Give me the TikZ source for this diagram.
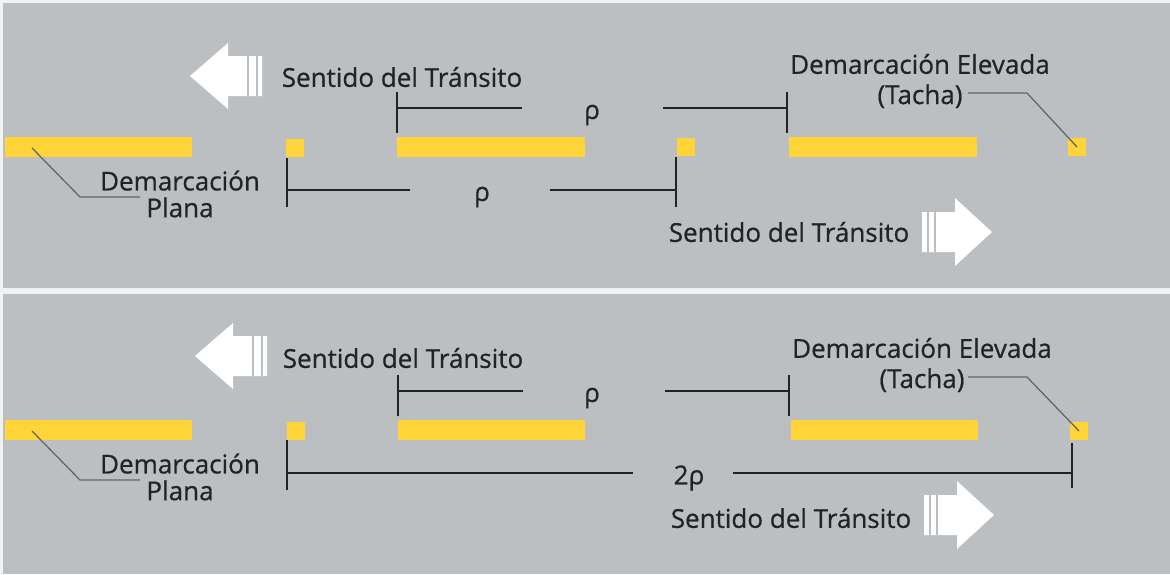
\documentclass[tikz,border=0pt]{standalone}
\usepackage{fontspec}
\setmainfont{Open Sans}
\newfontfamily\lblfont{Open Sans}[FakeBold=0.6]
\usetikzlibrary{positioning}
\definecolor{road}{RGB}{188,191,194}
\definecolor{paint}{RGB}{255,212,56}
\definecolor{ink}{RGB}{34,34,40}
\definecolor{leadgray}{RGB}{100,100,106}
\tikzset{lbl/.style={font=\lblfont\fontsize{18.5}{22}\selectfont,text=ink,inner sep=0pt,align=center},
  franja/.style={fill=paint,draw=none,minimum width=4.675cm,minimum height=0.5cm,inner sep=0pt},
  tachabox/.style={fill=paint,draw=none,minimum size=0.45cm,inner sep=0pt},
  dimline/.style={ink,line width=1.3pt},
  lead/.style={leadgray,line width=0.9pt},
  flecha/.style={fill=white,draw=none},
  gap/.style={road,line width=0.9pt}}

\begin{document}
\begin{tikzpicture}[x=0.025cm,y=-0.025cm]
\useasboundingbox (0,0) rectangle (1170,574);
\fill[white!80!road] (0,0) rectangle (1170,574);
\fill[road] (3,3) rectangle (1170,288);
\fill[road] (3,294) rectangle (1170,574);

% ---- upper panel: rho spacing
\node[franja] (fA1) at (98.5,147) {};
\node[tachabox] (sA1) at (295,148) {};
\node[franja] (fA2) at (491,147) {};
\node[tachabox] (sA2) at (686,147) {};
\node[franja] (fA3) at (883,147) {};
\node[tachabox] (tachaA) at (1077,147) {};

\fill[flecha] (190,76) -- ++(38,-33) -- ++(0,13) -- ++(34,0) -- ++(0,40) -- ++(-34,0) -- ++(0,13) -- cycle;
\draw[gap] (248,56) -- ++(0,40); \draw[gap] (257,56) -- ++(0,40);
\fill[flecha] (992,232) -- ++(-37,-34) -- ++(0,14) -- ++(-33,0) -- ++(0,40) -- ++(33,0) -- ++(0,14) -- cycle;
\draw[gap] (928,212) -- ++(0,40); \draw[gap] (935,212) -- ++(0,40);

\node[lbl] (senA) at (402,77) {Sentido del Tránsito};
\node[lbl] (senB) at (789,232) {Sentido del Tránsito};
\node[lbl,font=\lblfont\fontsize{18.5}{21.5}\selectfont] (elevA) at (920,81) {Demarcación Elevada\\(Tacha)};
\node[lbl,font=\lblfont\fontsize{18.5}{19}\selectfont] (planaA) at (180,194) {Demarcación\\Plana};
\node[lbl] (rhoA) at (592,115) {ρ};
\node[lbl] (rhoB) at (482,197) {ρ};

\coordinate (dA1) at (397,108); \coordinate (dA2) at (787,108);
\draw[dimline] (dA1) ++(0,-16) -- ++(0,41);
\draw[dimline] (dA2) ++(0,-16) -- ++(0,41);
\draw[dimline] (dA1) -- ++(125,0);
\draw[dimline] (dA2) -- ++(-124,0);
\coordinate (dB1) at (287,190); \coordinate (dB2) at (676,190);
\draw[dimline] (dB1) ++(0,-32) -- ++(0,49);
\draw[dimline] (dB2) ++(0,-33) -- ++(0,50);
\draw[dimline] (dB1) -- ++(123,0);
\draw[dimline] (dB2) -- ++(-126,0);

\coordinate (pA) at (32,148);
\draw[lead] (pA) -- ++(48,49) -- ++(60,0);
\coordinate (tA) at (968,93);
\draw[lead] (tA) -- ++(59,0) -- (tachaA.center);

% ---- lower panel: 2 rho spacing
\node[franja] (fB1) at (98.5,430) {};
\node[tachabox] (sB1) at (296,431) {};
\node[franja] (fB2) at (491.5,430) {};
\node[franja] (fB3) at (884.5,430) {};
\node[tachabox] (tachaB) at (1079,431) {};

\fill[flecha] (195,356) -- ++(38,-33) -- ++(0,13) -- ++(34,0) -- ++(0,40) -- ++(-34,0) -- ++(0,13) -- cycle;
\draw[gap] (253,336) -- ++(0,40); \draw[gap] (262,336) -- ++(0,40);
\fill[flecha] (994,515) -- ++(-37,-34) -- ++(0,14) -- ++(-33,0) -- ++(0,40) -- ++(33,0) -- ++(0,14) -- cycle;
\draw[gap] (930,495) -- ++(0,40); \draw[gap] (937,495) -- ++(0,40);

\node[lbl] (senC) at (403,358) {Sentido del Tránsito};
\node[lbl] (senD) at (791,518) {Sentido del Tránsito};
\node[lbl,font=\lblfont\fontsize{18.5}{21.5}\selectfont] (elevB) at (922,365) {Demarcación Elevada\\(Tacha)};
\node[lbl,font=\lblfont\fontsize{18.5}{19}\selectfont] (planaB) at (180,477) {Demarcación\\Plana};
\node[lbl] (rhoC) at (592,398) {ρ};
\node[lbl] (rhoD) at (689,478) {2ρ};

\coordinate (dC1) at (398,391); \coordinate (dC2) at (789,391);
\draw[dimline] (dC1) ++(0,-16) -- ++(0,41);
\draw[dimline] (dC2) ++(0,-16) -- ++(0,41);
\draw[dimline] (dC1) -- ++(125,0);
\draw[dimline] (dC2) -- ++(-124,0);
\coordinate (dD1) at (287,473); \coordinate (dD2) at (1072,473);
\draw[dimline] (dD1) ++(0,-33) -- ++(0,50);
\draw[dimline] (dD2) ++(0,-30) -- ++(0,45);
\draw[dimline] (dD1) -- ++(346,0);
\draw[dimline] (dD2) -- ++(-339,0);

\coordinate (pB) at (32,431);
\draw[lead] (pB) -- ++(48,49) -- ++(60,0);
\coordinate (tB) at (968,377);
\draw[lead] (tB) -- ++(59,0) -- (tachaB.center);
\end{tikzpicture}
\end{document}
